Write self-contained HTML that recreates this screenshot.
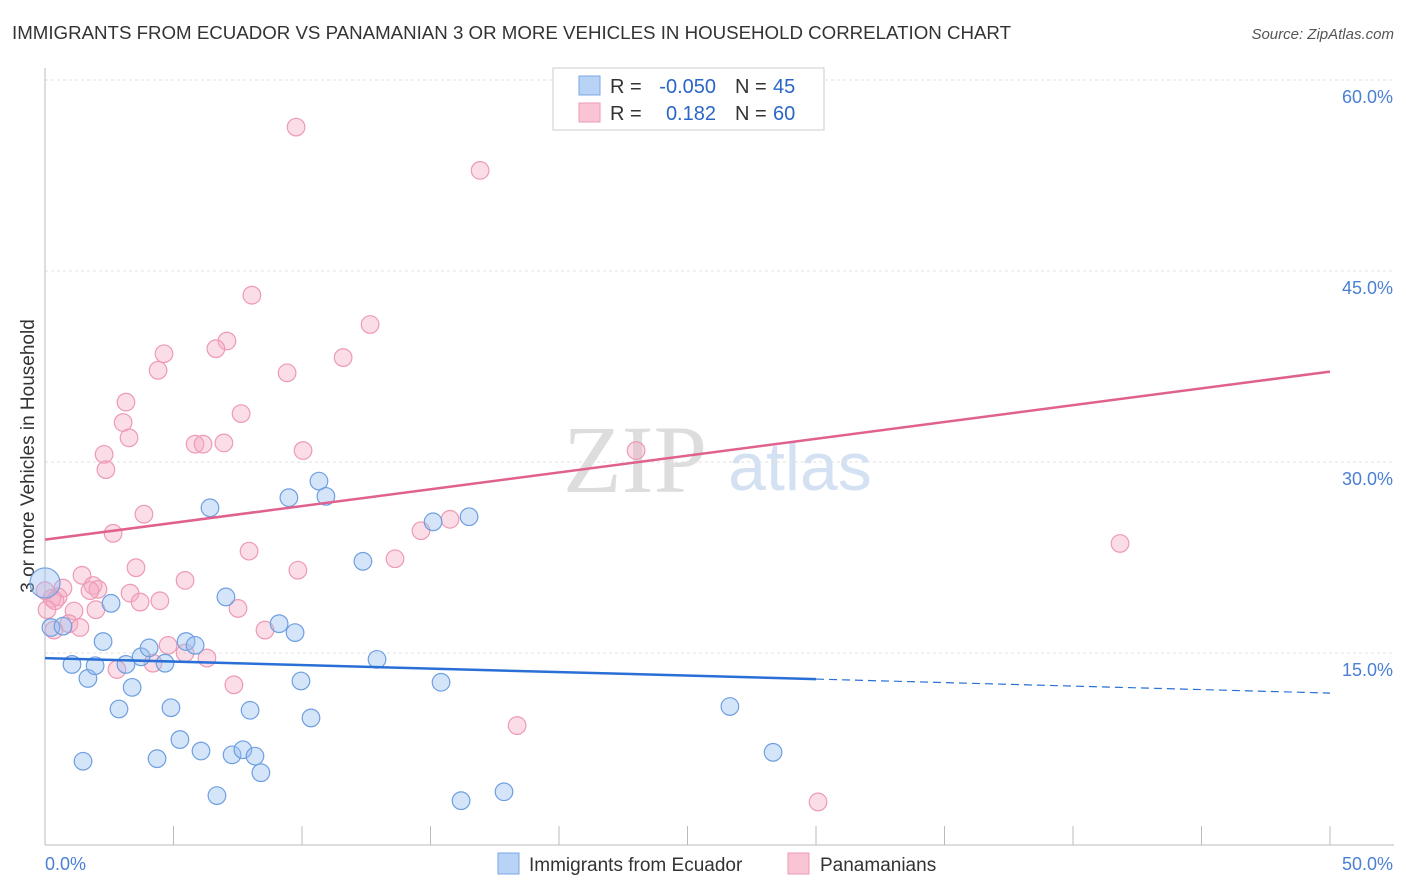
<!DOCTYPE html>
<html><head><meta charset="utf-8"><style>
body{margin:0;background:#fff;font-family:"Liberation Sans",sans-serif}
svg{display:block}
</style></head><body>
<svg id="chart" width="1406" height="892" xmlns="http://www.w3.org/2000/svg">
<text x="12" y="39" font-size="18.7" fill="#333" textLength="999">IMMIGRANTS FROM ECUADOR VS PANAMANIAN 3 OR MORE VEHICLES IN HOUSEHOLD CORRELATION CHART</text>
<text x="1394" y="39" font-size="15" fill="#555" font-style="italic" text-anchor="end">Source: ZipAtlas.com</text>
<text transform="translate(34,456) rotate(-90)" font-size="19" fill="#333" text-anchor="middle">3 or more Vehicles in Household</text>
<g><text x="635" y="492" font-size="96" fill="#ddd" font-family="Liberation Serif" text-anchor="middle">ZIP</text><text x="800" y="490" font-size="68" fill="#d3e1f3" text-anchor="middle">atlas</text></g>
<g id="grid"></g><g id="marks"></g><g id="lines"></g>
<g>
<rect x="553" y="68" width="271" height="62" fill="#fff" stroke="#ccc"/>
<rect x="579" y="76" width="21" height="19" fill="#b8d3f5" stroke="#7aa8e8"/>
<rect x="579" y="103" width="21" height="19" fill="#f9c5d4" stroke="#ee9ab4"/>
<text x="610" y="93" font-size="20" fill="#333">R =</text>
<text x="716" y="93" font-size="20" fill="#2a66c8" text-anchor="end">-0.050</text>
<text x="735" y="93" font-size="20" fill="#333">N =</text>
<text x="773" y="93" font-size="20" fill="#2a66c8">45</text>
<text x="610" y="120" font-size="20" fill="#333">R =</text>
<text x="716" y="120" font-size="20" fill="#2a66c8" text-anchor="end">0.182</text>
<text x="735" y="120" font-size="20" fill="#333">N =</text>
<text x="773" y="120" font-size="20" fill="#2a66c8">60</text>
</g>
<g>
<rect x="498" y="853" width="21" height="21" fill="#b8d3f5" stroke="#7aa8e8"/>
<text x="529" y="871" font-size="19" fill="#333">Immigrants from Ecuador</text>
<rect x="788" y="853" width="21" height="21" fill="#f9c5d4" stroke="#ee9ab4"/>
<text x="820" y="871" font-size="19" fill="#333">Panamanians</text>
</g>
</svg>
<script>
const blueX=[0,0.23,0.7,1.05,1.48,1.67,1.95,2.26,2.57,2.88,3.15,3.39,3.74,4.05,4.36,4.67,4.9,5.25,5.49,5.84,6.07,6.42,6.69,7.04,7.28,7.7,7.98,8.17,8.4,9.11,9.49,9.73,9.96,10.35,10.66,10.93,12.37,12.92,15.1,15.41,16.19,16.5,17.86,26.65,28.33];
const blueY=[20.5,17.0,17.1,14.1,6.5,13.0,14.0,15.9,18.9,10.6,14.1,12.3,14.7,15.4,6.7,14.2,10.7,8.2,15.9,15.6,7.3,26.4,3.8,19.4,7.0,7.4,10.5,6.9,5.6,17.3,27.2,16.6,12.8,9.9,28.5,27.3,22.2,14.5,25.3,12.7,3.4,25.7,4.1,10.8,7.2];
const pinkX=[9.77,16.93,8.05,12.65,7.08,6.65,4.63,11.6,4.4,9.42,3.15,7.63,3.04,3.27,5.84,6.15,6.96,2.3,10.04,2.37,23.0,3.85,15.76,14.63,2.65,41.83,7.94,13.62,3.54,9.84,1.44,5.45,1.87,2.06,0.7,1.75,0.51,0.27,0.39,3.31,3.7,4.47,7.51,1.13,1.98,0.93,1.36,0.35,8.56,4.79,5.45,6.3,4.2,2.8,7.35,18.37,30.08,23.15,0,0.08];
const pinkY=[56.3,52.9,43.1,40.8,39.5,38.9,38.5,38.2,37.2,37.0,34.7,33.8,33.1,31.9,31.4,31.4,31.5,30.6,30.9,29.4,30.9,25.9,25.5,24.6,24.4,23.6,23.0,22.4,21.7,21.5,21.1,20.7,20.3,20.0,20.1,19.9,19.4,19.3,19.1,19.7,19.0,19.1,18.5,18.3,18.4,17.3,17.0,16.8,16.8,15.6,15.0,14.6,14.2,13.7,12.5,9.3,3.3,59.5,19.9,18.4];
const yTicks=[15,30,45,60];
const yTickLabels=["15.0%","30.0%","45.0%","60.0%"];
const blueTrend=[14.6,11.85];
const pinkTrend=[23.9,37.1];
const NS="http://www.w3.org/2000/svg";
const sx=v=>45+v*25.7, sy=v=>80+(60-v)*12.733;
function mk(p,t,a){const e=document.createElementNS(NS,t);for(const k in a)e.setAttribute(k,a[k]);p.appendChild(e);return e;}
const grid=document.getElementById('grid'),marks=document.getElementById('marks'),lines=document.getElementById('lines');
yTicks.forEach((v,i)=>{
 const l=mk(grid,'line',{x1:45,x2:1394,y1:sy(v),y2:sy(v),stroke:'#e2e2e2','stroke-dasharray':'3 3'});
 
 
 const t=mk(grid,'text',{x:1393,y:sy(v)+23,'font-size':18,fill:'#4a7fd4','text-anchor':'end'});t.textContent=yTickLabels[i];
 
 
});
mk(grid,'line',{x1:45,x2:45,y1:68,y2:845,stroke:'#bbb'});
mk(grid,'line',{x1:45,x2:1394,y1:845,y2:845,stroke:'#bbb'});
for(let i=1;i<=10;i++){const tk=mk(grid,'line',{x1:sx(i*5),x2:sx(i*5),y1:826,y2:845,stroke:'#bbb'});
 
 }
const x0=mk(grid,'text',{x:45,y:870,'font-size':18,fill:'#4a7fd4'});x0.textContent='0.0%';


const x1=mk(grid,'text',{x:1393,y:870,'font-size':18,fill:'#4a7fd4','text-anchor':'end'});x1.textContent='50.0%';


pinkX.forEach((x,i)=>{const c=mk(marks,'circle',{cx:sx(x),cy:sy(pinkY[i]),r:8.8,fill:'rgba(246,170,195,0.4)',stroke:'#ee9ab4','stroke-width':1.2});
 
 });
blueX.forEach((x,i)=>{const c=mk(marks,'circle',{cx:sx(x),cy:sy(blueY[i]),r:i==0?15:8.8,fill:'rgba(150,190,240,0.4)',stroke:'#6e9fe0','stroke-width':1.2});
 
 });
const bAt=x=>blueTrend[0]+(blueTrend[1]-blueTrend[0])*x/50;
const pl=mk(lines,'line',{x1:sx(0),y1:sy(pinkTrend[0]),x2:sx(50),y2:sy(pinkTrend[1]),stroke:'#e0608e','stroke-width':2.5});


const bl=mk(lines,'line',{x1:sx(0),y1:sy(bAt(0)),x2:sx(30),y2:sy(bAt(30)),stroke:'#2a6fd6','stroke-width':2.5});


const bd=mk(lines,'line',{x1:sx(30),y1:sy(bAt(30)),x2:sx(50),y2:sy(bAt(50)),stroke:'#2a6fd6','stroke-width':1.2,'stroke-dasharray':'8 5'});


</script>
</body></html>
